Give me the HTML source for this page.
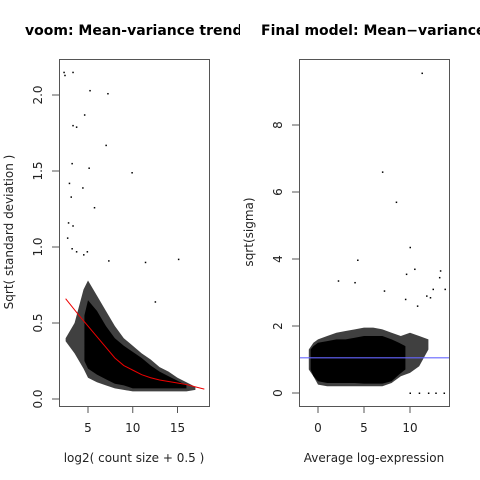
<!DOCTYPE html>
<html><head><meta charset="utf-8"><style>
body{margin:0;background:#fff}
svg{display:block;font-family:"DejaVu Sans","Liberation Sans",sans-serif}
</style></head><body>
<svg id="c" width="480" height="480" xmlns="http://www.w3.org/2000/svg">
<defs>
<clipPath id="cl"><rect x="0" y="0" width="240" height="480"/></clipPath>
<clipPath id="cr"><rect x="240" y="0" width="240" height="480"/></clipPath>
<clipPath id="pl"><rect x="59" y="59" width="150" height="347"/></clipPath>
<clipPath id="pr"><rect x="299" y="59" width="150" height="347"/></clipPath>
</defs>
<text x="25" y="35" font-size="14" font-weight="bold" clip-path="url(#cl)">voom: Mean-variance trend</text>
<text x="261" y="35" font-size="14" font-weight="bold" clip-path="url(#cr)">Final model: Mean−variance trend</text>
<g id="L"></g><g id="R"></g>
</svg>
<script>
// Left panel data
const leftBandX = [2.5,3.5,4.5,5,6,7,8,9,10,11,12,13,14,15,16,17];
const leftBandLo = [0.38,0.3,0.2,0.14,0.11,0.09,0.07,0.06,0.05,0.05,0.05,0.05,0.05,0.05,0.05,0.06];
const leftBandHi = [0.4,0.5,0.72,0.78,0.68,0.58,0.48,0.4,0.35,0.3,0.26,0.21,0.18,0.14,0.11,0.08];
const leftCoreX = [4.6,5,6,7,8,9,10,11,12,13,14,15,16];
const leftCoreLo = [0.25,0.2,0.16,0.13,0.1,0.09,0.07,0.07,0.07,0.07,0.07,0.07,0.07];
const leftCoreHi = [0.55,0.65,0.58,0.48,0.4,0.35,0.31,0.27,0.22,0.18,0.15,0.12,0.09];
const leftTrendX = [2.5,4,5,6,7,8,9,10,11,12,13,14,15,16,17,18];
const leftTrendY = [0.66,0.55,0.48,0.41,0.34,0.27,0.22,0.19,0.16,0.14,0.125,0.115,0.105,0.095,0.08,0.065];
const leftOutX = [2.4,3.3,2.3,4.6,5.2,7.2,3.3,3.7,7,3.2,2.9,4.4,5.1,3.1,5.7,9.9,2.8,3.3,2.7,3.7,4.9,11.4,15.1,7.3,12.5,3.2,4.5];
const leftOutY = [2.13,2.15,2.15,1.87,2.03,2.01,1.8,1.79,1.67,1.55,1.42,1.39,1.52,1.33,1.26,1.49,1.16,1.14,1.06,0.97,0.97,0.9,0.92,0.91,0.64,0.99,0.95];
const leftXTicks = [5,10,15];
const leftYTicks = [0,0.5,1,1.5,2];
const leftYLabels = ["0.0","0.5","1.0","1.5","2.0"];
// Right panel data
const rightBandX = [-1,-0.5,0,1,2,3,4,5,6,7,8,9,10,11,12];
const rightBandLo = [0.7,0.5,0.25,0.2,0.2,0.2,0.2,0.2,0.2,0.2,0.3,0.5,0.6,0.8,1.3];
const rightBandHi = [1.3,1.5,1.6,1.7,1.8,1.85,1.9,1.95,1.95,1.9,1.8,1.7,1.8,1.7,1.6];
const rightCoreX = [-0.8,-0.5,0,1,2,3,4,5,6,7,8,8.8,9.5];
const rightCoreLo = [0.7,0.5,0.35,0.3,0.3,0.3,0.3,0.28,0.28,0.28,0.35,0.55,0.7];
const rightCoreHi = [1.3,1.4,1.5,1.55,1.6,1.6,1.65,1.7,1.7,1.7,1.6,1.5,1.4];
const rightOutX = [11.3,7,8.5,10,4.3,2.2,4,10.5,9.6,13.3,13.2,13.8,7.2,12.5,11.8,12.2,10.8,9.5,10,11,12,12.8,13.7];
const rightOutY = [9.55,6.6,5.7,4.35,3.97,3.35,3.3,3.7,3.55,3.65,3.45,3.1,3.05,3.1,2.9,2.85,2.6,2.8,0,0,0,0,0];
const rightLine = 1.05;
const rightXTicks = [0,5,10];
const rightYTicks = [0,2,4,6,8];

const NS="http://www.w3.org/2000/svg";
function mk(p,t,a){const e=document.createElementNS(NS,t);for(const k in a)e.setAttribute(k,a[k]);p.appendChild(e);return e;}
function bandPath(xs,lo,hi,sx,sy){
  let d='M'+xs.map((x,i)=>sx(x)+','+sy(hi[i])).join('L');
  for(let i=xs.length-1;i>=0;i--)d+='L'+sx(xs[i])+','+sy(lo[i]);
  return d+'Z';
}
// LEFT
const L=document.getElementById('L');
const lx=v=>88+(v-5)*8.95, ly=v=>399-v*152;
const lp=mk(L,'g',{'clip-path':'url(#pl)'});


const lb=mk(lp,'path',{d:bandPath(leftBandX,leftBandLo,leftBandHi,lx,ly),fill:'#000','fill-opacity':0.75});


const lc=mk(lp,'path',{d:bandPath(leftCoreX,leftCoreLo,leftCoreHi,lx,ly),fill:'#000'});


leftOutX.forEach((x,i)=>{const r=mk(lp,'rect',{x:lx(x)-0.5,y:ly(leftOutY[i])-0.5,width:1.5,height:1.5,fill:'#000'});

});
const lt=mk(lp,'polyline',{points:leftTrendX.map((x,i)=>lx(x)+','+ly(leftTrendY[i])).join(' '),fill:'none',stroke:'#e00','stroke-width':1});


const lbx=mk(L,'rect',{x:59.5,y:59.5,width:150,height:347,fill:'none',stroke:'#555'});


leftXTicks.forEach(v=>{mk(L,'line',{x1:lx(v),x2:lx(v),y1:406,y2:413,stroke:'#555'});
const t=mk(L,'text',{x:lx(v),y:432,'font-size':12,'text-anchor':'middle',fill:'#222'});t.textContent=v;

});
leftYTicks.forEach((v,i)=>{mk(L,'line',{x1:52,x2:59,y1:ly(v),y2:ly(v),stroke:'#555'});
const t=mk(L,'text',{x:0,y:0,'font-size':12,'text-anchor':'middle',fill:'#222',transform:`translate(42,${ly(v)}) rotate(-90)`});t.textContent=leftYLabels[i];

});
let t=mk(L,'text',{x:134,y:462,'font-size':12,'text-anchor':'middle',fill:'#222'});t.textContent='log2( count size + 0.5 )';


t=mk(L,'text',{x:0,y:0,'font-size':12,'text-anchor':'middle',fill:'#222',transform:'translate(13,232) rotate(-90)'});t.textContent='Sqrt( standard deviation )';


// RIGHT
const R=document.getElementById('R');
const rx=v=>318+v*9.2, ry=v=>393-v*33.5;
const rp=mk(R,'g',{'clip-path':'url(#pr)'});


const rb=mk(rp,'path',{d:bandPath(rightBandX,rightBandLo,rightBandHi,rx,ry),fill:'#000','fill-opacity':0.75});


const rc=mk(rp,'path',{d:bandPath(rightCoreX,rightCoreLo,rightCoreHi,rx,ry),fill:'#000'});


rightOutX.forEach((x,i)=>{const r=mk(rp,'rect',{x:rx(x)-0.5,y:ry(rightOutY[i])-0.5,width:1.5,height:1.5,fill:'#000'});

});
const rl=mk(rp,'line',{x1:299,x2:449,y1:ry(rightLine),y2:ry(rightLine),stroke:'#66f','stroke-width':1.2});


const rbx=mk(R,'rect',{x:299.5,y:59.5,width:150,height:347,fill:'none',stroke:'#555'});


rightXTicks.forEach(v=>{mk(R,'line',{x1:rx(v),x2:rx(v),y1:406,y2:413,stroke:'#555'});
const t=mk(R,'text',{x:rx(v),y:432,'font-size':12,'text-anchor':'middle',fill:'#222'});t.textContent=v;

});
rightYTicks.forEach(v=>{mk(R,'line',{x1:292,x2:299,y1:ry(v),y2:ry(v),stroke:'#555'});
const t=mk(R,'text',{x:0,y:0,'font-size':12,'text-anchor':'middle',fill:'#222',transform:`translate(282,${ry(v)}) rotate(-90)`});t.textContent=v;

});
t=mk(R,'text',{x:374,y:462,'font-size':12,'text-anchor':'middle',fill:'#222'});t.textContent='Average log-expression';


t=mk(R,'text',{x:0,y:0,'font-size':12,'text-anchor':'middle',fill:'#222',transform:'translate(253,232) rotate(-90)'});t.textContent='sqrt(sigma)';


</script>
</body></html>
